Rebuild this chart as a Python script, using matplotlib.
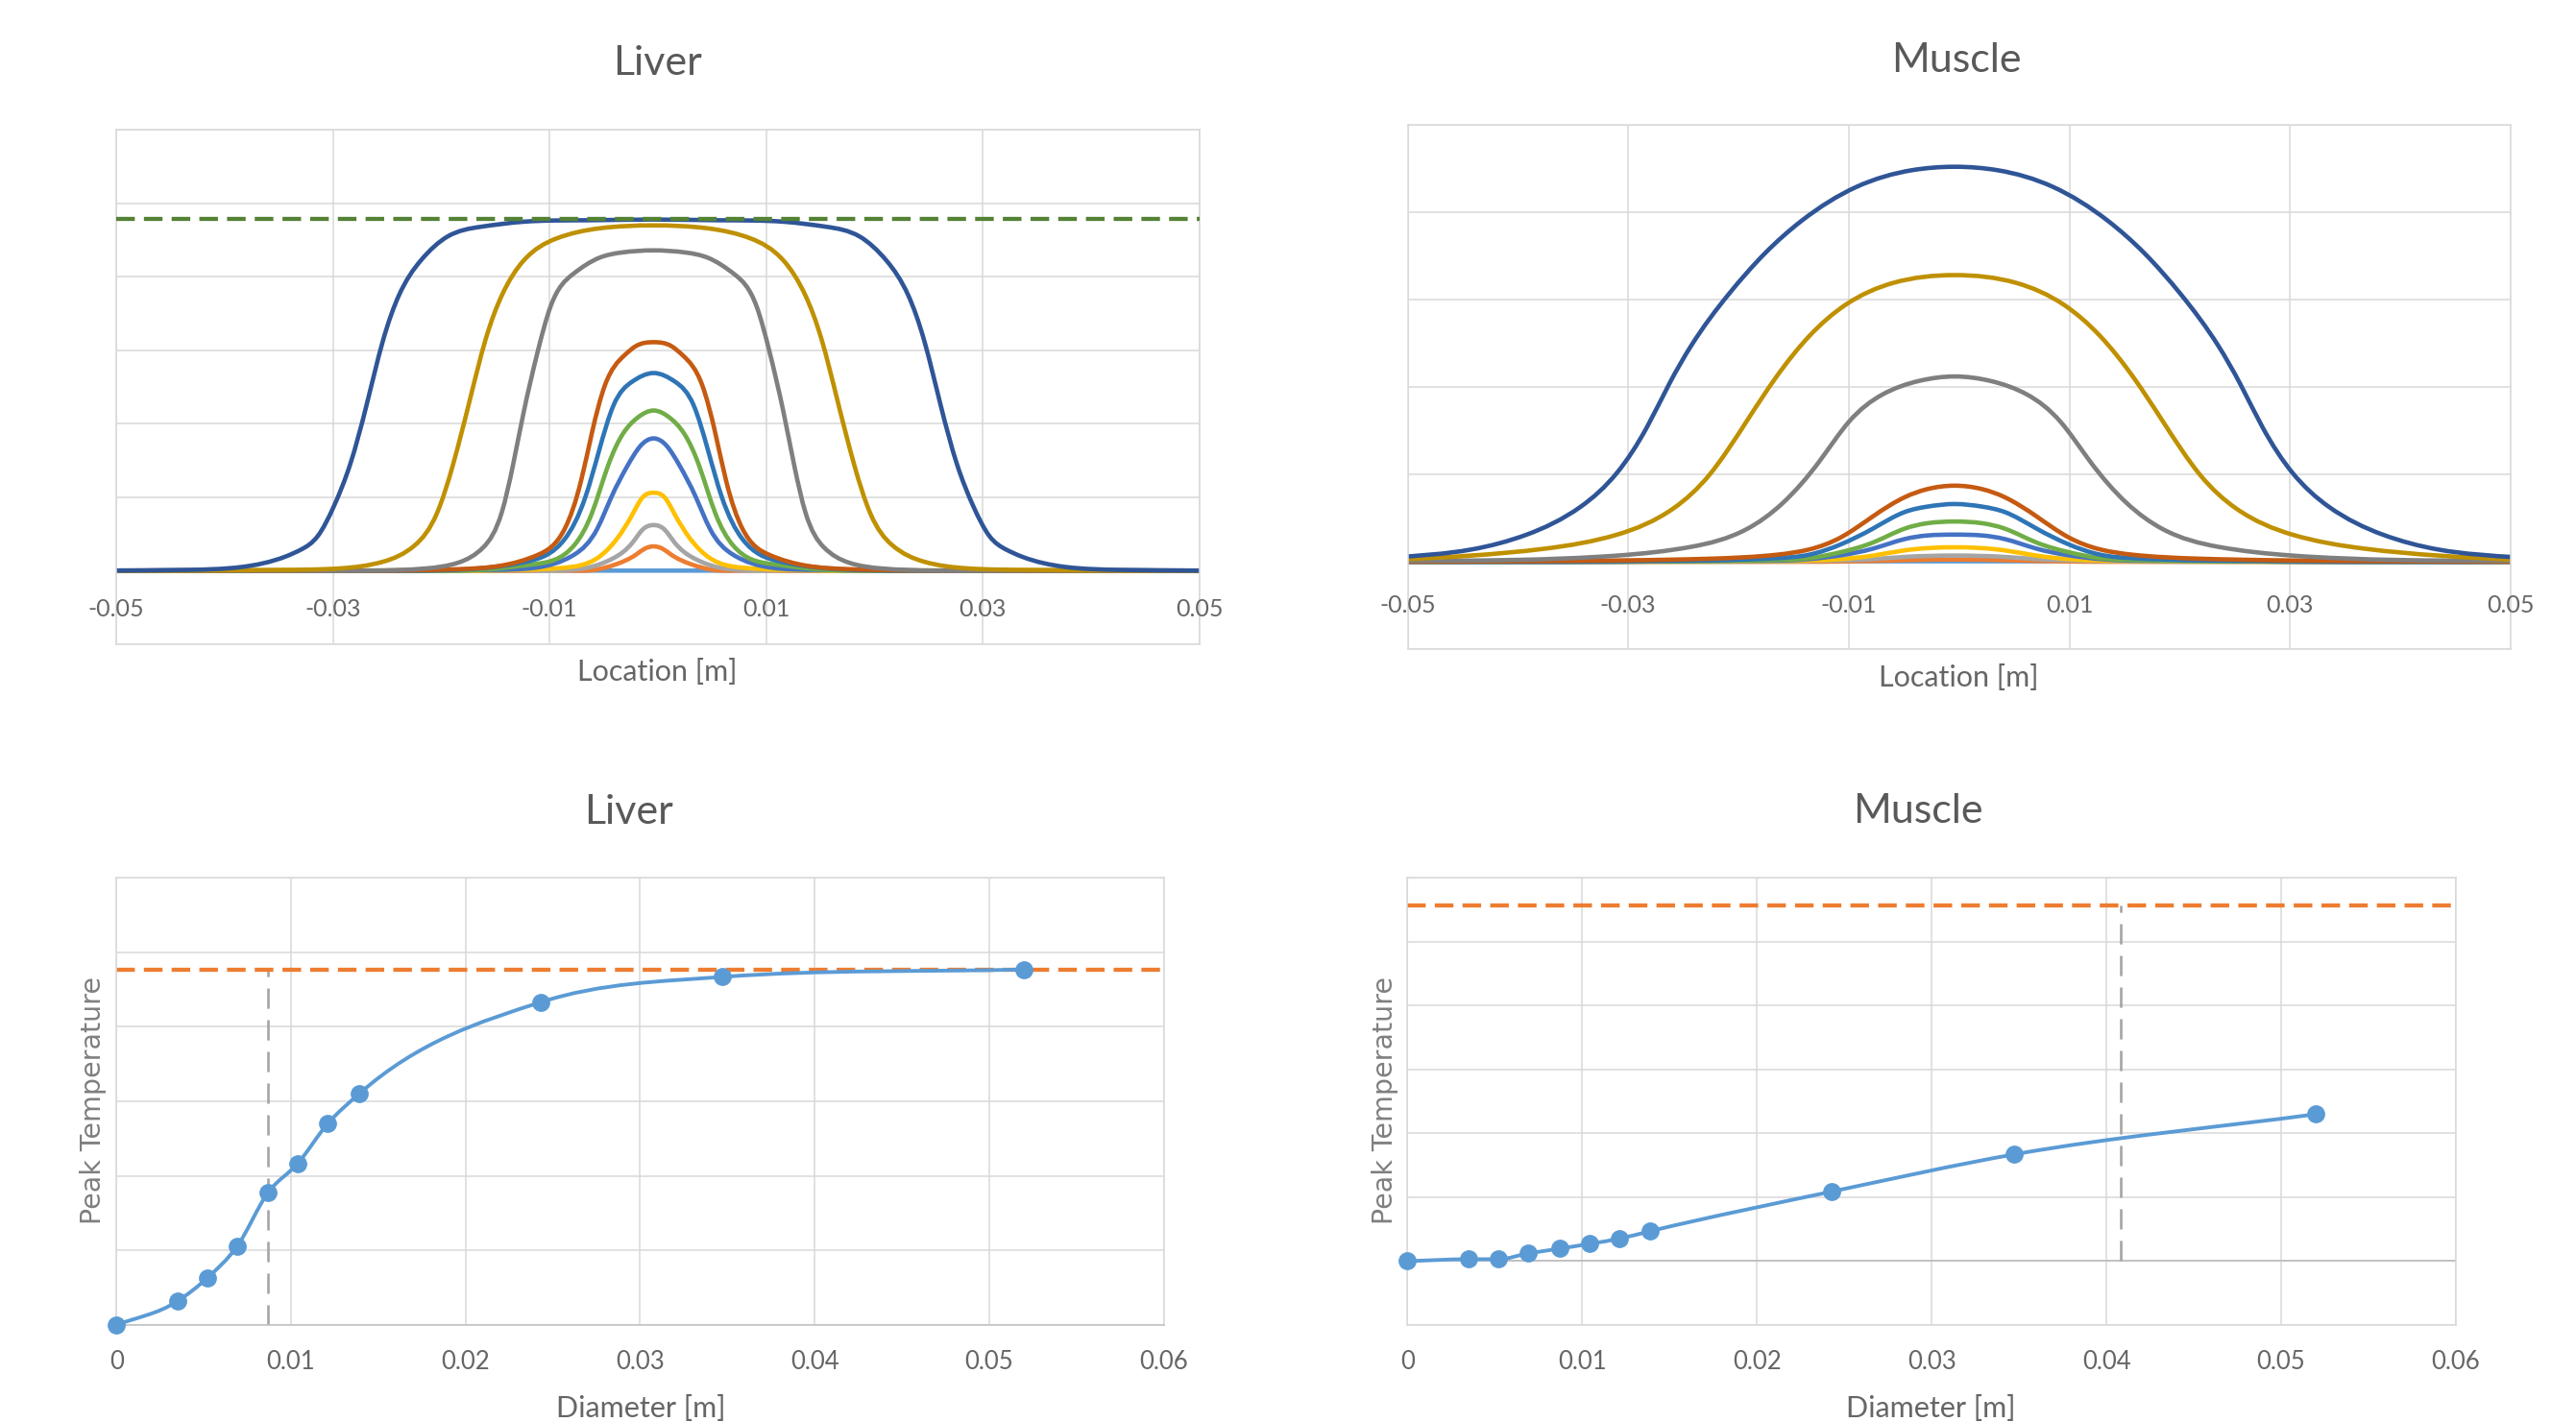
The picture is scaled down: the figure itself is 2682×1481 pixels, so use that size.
import matplotlib
matplotlib.use('Agg')
import matplotlib.pyplot as plt
import numpy as np
from matplotlib.path import Path
from matplotlib.patches import PathPatch

# ---- data ----
# temperature profiles are symmetric: distance from centre [m] -> value
profile_centre = -0.0004

liver_ltblue_d = [0, 0.051]
liver_ltblue_t = [0.0, 0.0]
liver_orange_d = [0, 0.0008, 0.0016, 0.0034, 0.0055, 0.008, 0.012, 0.02, 0.03, 0.04, 0.051]
liver_orange_t = [0.33, 0.30, 0.22, 0.09, 0.01, 0.002, 0.0, 0.0, 0.0, 0.0, 0.0]
liver_ltgray_d = [0, 0.001, 0.0019, 0.0037, 0.0061, 0.010, 0.015, 0.025, 0.035, 0.051]
liver_ltgray_t = [0.62, 0.56, 0.39, 0.17, 0.04, 0.01, 0.0, 0.0, 0.0, 0.0]
liver_yellow_d = [0, 0.001, 0.0019, 0.0034, 0.0052, 0.0082, 0.012, 0.018, 0.027, 0.038, 0.051]
liver_yellow_t = [1.06, 1.00, 0.78, 0.43, 0.17, 0.04, 0.01, 0.0, 0.0, 0.0, 0.0]
liver_blue_d = [0, 0.0012, 0.0024, 0.0039, 0.0052, 0.0073, 0.0109, 0.015, 0.022, 0.032, 0.051]
liver_blue_t = [1.80, 1.70, 1.43, 1.00, 0.57, 0.22, 0.04, 0.01, 0.0, 0.0, 0.0]
liver_green_d = [0, 0.0015, 0.0028, 0.0042, 0.0057, 0.0073, 0.0109, 0.015, 0.022, 0.032, 0.051]
liver_green_t = [2.18, 2.08, 1.87, 1.43, 0.78, 0.35, 0.09, 0.02, 0.0, 0.0, 0.0]
liver_dkblue_d = [0, 0.002, 0.0037, 0.005, 0.0063, 0.0082, 0.0115, 0.016, 0.023, 0.033, 0.051]
liver_dkblue_t = [2.69, 2.57, 2.25, 1.65, 1.00, 0.43, 0.13, 0.03, 0.0, 0.0, 0.0]
liver_brown_d = [0, 0.0016, 0.0027, 0.0045, 0.0057, 0.0067, 0.0082, 0.0106, 0.0142, 0.018, 0.025, 0.035, 0.051]
liver_brown_t = [3.11, 3.06, 2.93, 2.52, 1.87, 1.22, 0.57, 0.22, 0.065, 0.02, 0.0, 0.0, 0.0]
liver_gray_d = [0, 0.003, 0.005, 0.0075, 0.0095, 0.0107, 0.012, 0.013, 0.014, 0.0157, 0.018, 0.021, 0.026, 0.035, 0.051]
liver_gray_t = [4.36, 4.33, 4.26, 4.03, 3.60, 2.98, 2.15, 1.42, 0.80, 0.32, 0.11, 0.03, 0.0, 0.0, 0.0]
liver_gold_d = [0, 0.005, 0.009, 0.012, 0.014, 0.0155, 0.017, 0.0185, 0.020, 0.022, 0.025, 0.029, 0.035, 0.043, 0.051]
liver_gold_t = [4.70, 4.66, 4.52, 4.22, 3.75, 3.15, 2.30, 1.45, 0.78, 0.35, 0.12, 0.03, 0.01, 0.0, 0.0]
liver_navy_d = [0, 0.006, 0.012, 0.016, 0.019, 0.0215, 0.0235, 0.025, 0.0265, 0.028, 0.0295, 0.031, 0.0325, 0.034, 0.038, 0.043, 0.051]
liver_navy_t = [4.78, 4.77, 4.75, 4.68, 4.55, 4.22, 3.75, 3.12, 2.25, 1.45, 0.88, 0.47, 0.29, 0.19, 0.05, 0.01, 0.0]
liver_limit_profile = 4.79

muscle_ltblue_d = [0, 0.051]
muscle_ltblue_t = [0.005, 0.0]
muscle_orange_d = [0, 0.0045, 0.009, 0.02, 0.035, 0.051]
muscle_orange_t = [0.025, 0.018, 0.005, 0.0, 0.0, 0.0]
muscle_ltgray_d = [0, 0.0045, 0.0074, 0.012, 0.022, 0.035, 0.051]
muscle_ltgray_t = [0.07, 0.055, 0.03, 0.01, 0.0, 0.0, 0.0]
muscle_yellow_d = [0, 0.0045, 0.0074, 0.0103, 0.015, 0.025, 0.037, 0.051]
muscle_yellow_t = [0.165, 0.13, 0.07, 0.03, 0.01, 0.0, 0.0, 0.0]
muscle_blue_d = [0, 0.0025, 0.0045, 0.0074, 0.0103, 0.0132, 0.02, 0.03, 0.051]
muscle_blue_t = [0.31, 0.30, 0.26, 0.15, 0.074, 0.03, 0.01, 0.0, 0.0]
muscle_green_d = [0, 0.0025, 0.0045, 0.0074, 0.0103, 0.0132, 0.0161, 0.025, 0.036, 0.051]
muscle_green_t = [0.46, 0.44, 0.38, 0.22, 0.11, 0.04, 0.02, 0.005, 0.0, 0.0]
muscle_dkblue_d = [0, 0.0025, 0.0045, 0.0074, 0.0103, 0.0132, 0.0161, 0.022, 0.03, 0.04, 0.051]
muscle_dkblue_t = [0.66, 0.63, 0.57, 0.38, 0.20, 0.08, 0.04, 0.015, 0.005, 0.0, 0.0]
muscle_brown_d = [0, 0.0025, 0.0045, 0.0074, 0.0103, 0.0132, 0.0161, 0.022, 0.03, 0.04, 0.051]
muscle_brown_t = [0.87, 0.83, 0.74, 0.52, 0.28, 0.14, 0.08, 0.035, 0.015, 0.005, 0.0]
muscle_gray_d = [0, 0.0032, 0.0066, 0.0096, 0.0122, 0.0156, 0.0189, 0.0239, 0.0306, 0.04, 0.051]
muscle_gray_t = [2.12, 2.07, 1.91, 1.60, 1.16, 0.67, 0.37, 0.17, 0.07, 0.02, 0.01]
muscle_gold_d = [0, 0.0056, 0.0099, 0.0132, 0.0162, 0.0189, 0.0222, 0.0255, 0.0306, 0.0371, 0.051]
muscle_gold_t = [3.28, 3.19, 2.94, 2.58, 2.11, 1.60, 1.00, 0.61, 0.31, 0.15, 0.02]
muscle_navy_d = [0, 0.0039, 0.0089, 0.0139, 0.0172, 0.0205, 0.0239, 0.0259, 0.0279, 0.0306, 0.0339, 0.0388, 0.0438, 0.051]
muscle_navy_t = [4.52, 4.48, 4.29, 3.90, 3.53, 3.06, 2.47, 2.03, 1.54, 1.02, 0.63, 0.31, 0.14, 0.05]

# peak temperature vs diameter
diameter = [0, 0.0035, 0.0052, 0.0069, 0.0087, 0.0104, 0.0121, 0.0139, 0.0243, 0.0347, 0.0520]
liver_peak = [0, 0.32, 0.63, 1.05, 1.78, 2.17, 2.70, 3.10, 4.33, 4.67, 4.77]
muscle_peak = [0, 0.03, 0.03, 0.12, 0.195, 0.27, 0.35, 0.47, 1.09, 1.67, 2.30]
liver_limit = 4.77
liver_cut = 0.0087
muscle_limit = 5.57
muscle_cut = 0.0408

loc_ticks = [-0.05, -0.03, -0.01, 0.01, 0.03, 0.05]
loc_labels = ['-0.05', '-0.03', '-0.01', '0.01', '0.03', '0.05']
dia_ticks = [0, 0.01, 0.02, 0.03, 0.04, 0.05, 0.06]
dia_labels = ['0', '0.01', '0.02', '0.03', '0.04', '0.05', '0.06']

series_colors = ['#5B9BD5', '#ED7D31', '#A5A5A5', '#FFC000', '#4472C4', '#70AD47',
                 '#2E75B6', '#C55A11', '#7F7F7F', '#BF9000', '#2F5597']
liver_series = [(liver_ltblue_d, liver_ltblue_t), (liver_orange_d, liver_orange_t),
                (liver_ltgray_d, liver_ltgray_t), (liver_yellow_d, liver_yellow_t),
                (liver_blue_d, liver_blue_t), (liver_green_d, liver_green_t),
                (liver_dkblue_d, liver_dkblue_t), (liver_brown_d, liver_brown_t),
                (liver_gray_d, liver_gray_t), (liver_gold_d, liver_gold_t),
                (liver_navy_d, liver_navy_t)]
muscle_series = [(muscle_ltblue_d, muscle_ltblue_t), (muscle_orange_d, muscle_orange_t),
                 (muscle_ltgray_d, muscle_ltgray_t), (muscle_yellow_d, muscle_yellow_t),
                 (muscle_blue_d, muscle_blue_t), (muscle_green_d, muscle_green_t),
                 (muscle_dkblue_d, muscle_dkblue_t), (muscle_brown_d, muscle_brown_t),
                 (muscle_gray_d, muscle_gray_t), (muscle_gold_d, muscle_gold_t),
                 (muscle_navy_d, muscle_navy_t)]

TEXT = '#595959'
TICK = '#666666'
GRID = '#D9D9D9'
FONT = 'Lato'
W, H = 2682, 1481


def mirror(d, t):
    d = np.asarray(d, float)
    t = np.asarray(t, float)
    x = np.concatenate([-d[::-1], d[1:]]) + profile_centre
    y = np.concatenate([t[::-1], t[1:]])
    return x, y


def bezier(x, y, m):
    h = np.diff(x)
    verts = [(x[0], y[0])]
    codes = [Path.MOVETO]
    for i in range(len(h)):
        verts += [(x[i] + h[i] / 3, y[i] + m[i] * h[i] / 3),
                  (x[i + 1] - h[i] / 3, y[i + 1] - m[i + 1] * h[i] / 3),
                  (x[i + 1], y[i + 1])]
        codes += [Path.CURVE4] * 3
    return Path(verts, codes)


def spline_path(x, y):
    # natural cubic spline through the points, drawn as bezier pieces
    x = np.asarray(x, float)
    y = np.asarray(y, float)
    n = len(x)
    h = np.diff(x)
    s = np.diff(y) / h
    A = np.eye(n)
    b = np.zeros(n)
    for i in range(1, n - 1):
        A[i, i - 1] = h[i - 1]
        A[i, i] = 2 * (h[i - 1] + h[i])
        A[i, i + 1] = h[i]
        b[i] = 6 * (s[i] - s[i - 1])
    M = np.linalg.solve(A, b)
    m = np.empty(n)
    m[:-1] = s - h * (2 * M[:-1] + M[1:]) / 6
    m[-1] = s[-1] + h[-1] * (M[-2] + 2 * M[-1]) / 6
    return bezier(x, y, m)


def smooth_path(x, y):
    # local smoothing that keeps the corners of the measured points
    x = np.asarray(x, float)
    y = np.asarray(y, float)
    h = np.diff(x)
    s = np.diff(y) / h
    m = np.zeros_like(x)
    for i in range(1, len(x) - 1):
        if s[i - 1] * s[i] > 0:
            q = (h[i] * s[i - 1] + h[i - 1] * s[i]) / (h[i - 1] + h[i])
            lim = 3 * min(abs(s[i - 1]), abs(s[i]))
            m[i] = np.sign(q) * min(abs(q), lim)
    m[0], m[-1] = s[0], s[-1]
    return bezier(x, y, m)


def add_axes(left, top, right, bottom):
    return fig.add_axes([left / W, 1 - bottom / H, (right - left) / W, (bottom - top) / H])


def frame(ax, xticks, ylim):
    ax.set_xticks(xticks)
    ax.set_yticks(np.arange(ylim[0], ylim[1] + 1))
    ax.set_ylim(*ylim)
    ax.grid(True, color=GRID, lw=1.1)
    ax.set_axisbelow(True)
    ax.tick_params(length=0, labelbottom=False, labelleft=False)
    for s in ax.spines.values():
        s.set_color(GRID)
        s.set_linewidth(1.1)


def tick_text(ax, ticks, labels, yfrac, size):
    for t, lab in zip(ticks, labels):
        ax.text(t, yfrac, lab, transform=ax.get_xaxis_transform(), ha='center', va='center',
                fontsize=size, color=TICK, family=FONT, clip_on=False)


def fig_text(x, y, s, size, **kw):
    fig.text(x / W, 1 - y / H, s, fontsize=size, family=kw.pop('family', FONT),
             color=kw.pop('color', TEXT), ha='center', va=kw.pop('va', 'center'), **kw)


fig = plt.figure(figsize=(W / 100, H / 100), dpi=100)
fig.patch.set_facecolor('white')

ax_tl = add_axes(121, 135.3, 1249, 670.8)
ax_tr = add_axes(1465.5, 130, 2614, 676)
ax_bl = add_axes(121.2, 914.2, 1211.5, 1380)
ax_br = add_axes(1465.4, 914.2, 2557, 1380)

dash = (0, (4.5, 2.2))
gray_dash = (0, (8, 4.5))

# ---- top: temperature profiles ----
for ax, series, ylim, ly in [(ax_tl, liver_series, (-1, 6), 0.067),
                             (ax_tr, muscle_series, (-1, 5), 0.084)]:
    frame(ax, loc_ticks, ylim)
    ax.set_xlim(-0.05, 0.05)
    ax.axhline(0, color='#BFBFBF', lw=1.1, zorder=1)
    for (d, t), c in zip(series, series_colors):
        x, y = mirror(d, t)
        ax.add_patch(PathPatch(spline_path(x, y), facecolor='none', edgecolor=c,
                               lw=3.3, capstyle='round', joinstyle='round', zorder=2))
    tick_text(ax, loc_ticks, loc_labels, ly, 18)

ax_tl.axhline(liver_limit_profile, color='#548235', lw=3.1, linestyle=dash, zorder=3)

# ---- bottom: peak temperature vs diameter ----
for ax, peak, limit, cut, ylim in [(ax_bl, liver_peak, liver_limit, liver_cut, (0, 6)),
                                   (ax_br, muscle_peak, muscle_limit, muscle_cut, (-1, 6))]:
    frame(ax, dia_ticks, ylim)
    ax.set_xlim(0, 0.06)
    if ylim[0] < 0:
        ax.axhline(0, color='#BFBFBF', lw=1.3, zorder=1)
    else:
        ax.spines['bottom'].set_color('#BFBFBF')
    ax.plot([cut, cut], [0, limit], color='#A5A5A5', lw=1.9, linestyle=gray_dash, zorder=2)
    ax.axhline(limit, color='#ED7D31', lw=3.1, linestyle=dash, zorder=2)
    ax.add_patch(PathPatch(smooth_path(diameter, peak), facecolor='none', edgecolor='#5B9BD5',
                           lw=2.8, capstyle='round', zorder=3))
    ax.plot(diameter, peak, 'o', ms=12.5, color='#5B9BD5', linestyle='none', zorder=4, clip_on=False)
    tick_text(ax, dia_ticks, dia_labels, -0.0837, 18.5)

# ---- titles and axis titles ----
fig_text(684, 66, 'Liver', 31)
fig_text(2037, 63, 'Muscle', 31)
fig_text(655, 846, 'Liver', 31)
fig_text(1997, 845, 'Muscle', 31)
fig_text(684, 700, 'Location [m]', 22, color=TICK)
fig_text(2039, 706, 'Location [m]', 22, color=TICK)
fig_text(667, 1453, 'Diameter [m]', 22, va='top', color=TICK)
fig_text(2010, 1453, 'Diameter [m]', 22, va='top', color=TICK)
fig_text(97, 1146, 'Peak Temperature', 20.5, rotation=90, family='DejaVu Sans', color='#7F7F7F')
fig_text(1442, 1146, 'Peak Temperature', 20.5, rotation=90, family='DejaVu Sans', color='#7F7F7F')

fig.savefig('out.png', dpi=100, facecolor='white')
plt.close(fig)
